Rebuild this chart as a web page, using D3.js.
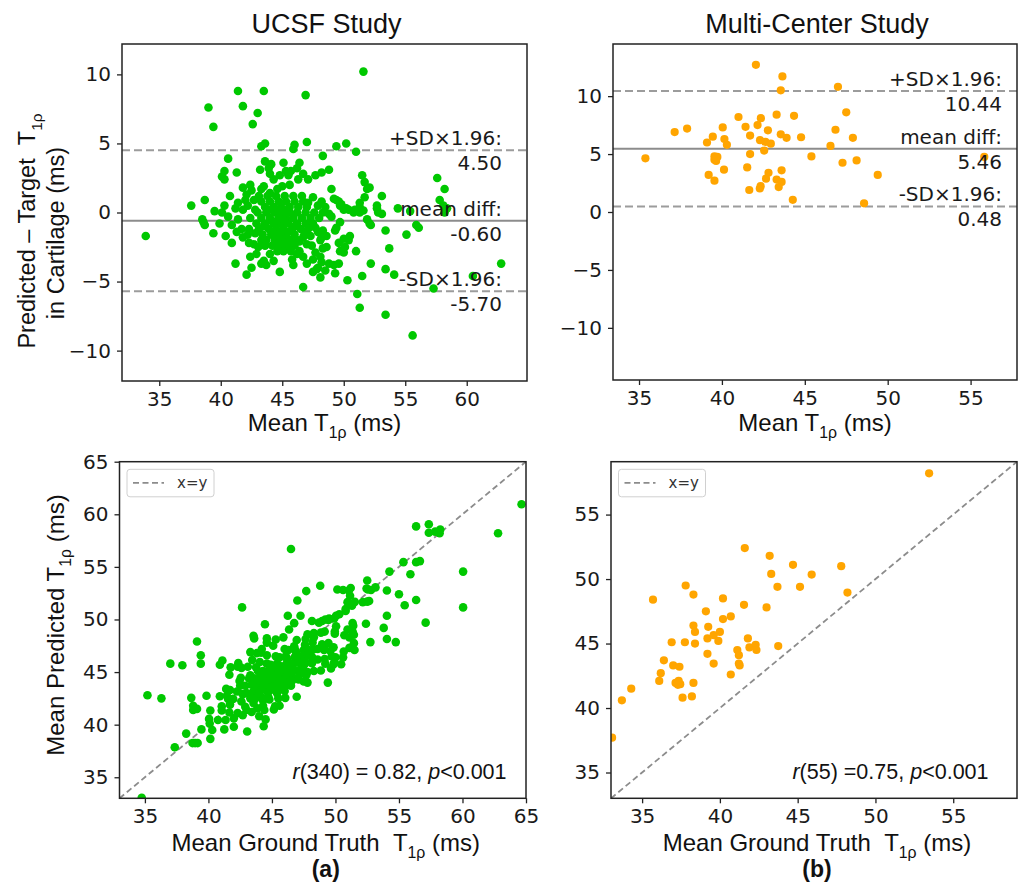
<!DOCTYPE html>
<html>
<head>
<meta charset="utf-8">
<script src="https://cdn.jsdelivr.net/npm/d3@7"></script>
<style>
  body { margin: 0; background: #fff; }
  svg { display: block; }
</style>
</head>
<body>
<svg id="chart" width="1021" height="886"></svg>
<script>
// UCSF: Bland-Altman points, [mean T1rho, predicted - target]
const ucsfBA = [
  // upper outliers
  [51.6,10.2],[41.4,8.8],[43.5,8.8],[46.9,8.5],[39.0,7.6],[41.8,7.7],[43.0,7.2],[39.4,6.2],[42.6,6.4],
  // near +SD line
  [43.3,4.8],[43.6,5.0],[46.0,4.9],[45.9,4.6],[47.0,5.1],[49.4,4.8],[50.2,5.0],[51.0,4.4],[48.3,4.1],
  [40.6,3.9],[43.6,3.7],[45.1,3.6],[46.4,3.6],[44.1,3.5],
  // upper band
  [40.3,3.0],[40.1,2.6],[40.3,2.4],[41.3,2.9],[43.2,3.1],[43.9,3.2],[44.0,2.8],[45.3,3.0],[46.2,3.2],
  [48.8,3.1],[48.2,2.9],[47.7,2.7],[47.1,2.4],[49.0,1.7],[51.5,2.7],[51.7,2.2],[52.1,1.8],[51.9,1.7],
  [57.6,2.5],[58.2,1.7],[53.1,1.2],[41.8,1.8],[42.4,2.0],[42.5,1.6],[42.1,1.3],[43.3,1.7],[44.3,2.4],
  [44.6,1.7],[43.5,1.9],[44.0,1.4],[45.0,1.9],[45.6,2.0],[46.3,2.4],[44.8,2.7],[45.5,2.7],[46.7,2.8],[45.7,3.0],
  // around zero
  [40.75,1.2],[38.7,0.9],[37.6,0.5],[40.3,0.5],[40.1,0.0],[39.5,0.1],[41.2,0.3],[41.4,0.7],[41.8,0.2],
  [42.2,0.5],[42.7,0.9],[43.1,1.2],[42.8,0.2],[42.0,0.9],[47.5,1.1],[47.1,0.7],[47.9,0.5],[49.4,0.9],
  [49.7,0.5],[50.0,0.2],[50.4,0.2],[50.8,0.0],[51.3,0.0],[52.7,0.5],[51.3,0.7],[51.7,1.1],[49.2,1.0],
  [49.6,0.8],[49.8,0.6],[50.2,0.3],[50.9,0.2],[52.7,0.3],[52.8,0.0],[53.1,-0.1],[54.4,0.3],[55.4,0.1],
  [57.8,0.9],[58.1,0.5],[58.2,0.0],[58.4,0.3],[51.3,0.4],[51.6,0.15],[48.8,-0.1],[49.0,-0.3],
  // right and lower side
  [55.9,-0.9],[56.1,-1.1],[55.1,-1.6],[53.4,-1.3],[51.9,-0.5],[52.1,-0.8],[52.2,-0.9],[53.7,-2.6],
  [52.2,-3.7],[53.4,-4.1],[54.1,-4.5],[51.5,-4.6],[50.3,-4.9],[51.1,-5.9],[51.3,-6.9],[53.4,-7.4],
  [55.6,-8.9],[57.3,-5.5],[60.5,-4.6],[62.8,-3.7],[51.0,-2.8],[49.7,-2.8],[50.0,-2.9],[50.1,-2.5],
  [50.5,-1.7],[50.4,-2.0],[50.0,-1.9],[49.6,-2.2],[49.4,-1.1],[49.7,-0.7],[49.3,-1.3],[49.2,-3.8],
  [49.3,-4.4],[49.6,-3.7],[48.6,-2.5],[48.3,-2.6],[48.1,-3.2],[48.2,-3.6],[48.8,-3.7],[48.5,-4.2],
  [47.9,-4.0],[47.7,-2.9],[47.5,-3.4],[47.8,-4.1],[48.1,-4.7],[47.5,-4.3],[46.7,-3.2],[47.0,-3.7],
  [47.4,-2.4],[46.4,-2.8],[44.8,-4.3],[45.9,-3.8],[45.8,-3.4],[46.2,-3.0],[46.7,-5.4],[48.3,-1.3],
  [48.6,-1.7],[47.9,-1.4],[48.2,-1.8],[47.7,-1.1],[47.3,-1.7],[48.1,-2.0],[46.7,-1.8],[46.4,-2.1],[47.0,-2.3],
  // left and lower side
  [33.9,-1.7],[38.5,-0.5],[38.7,-0.9],[38.6,-0.7],[39.4,-1.5],[39.9,-0.8],[40.4,-1.7],[40.9,-2.2],
  [41.2,-3.7],[42.1,-4.5],[42.5,-4.0],[43.3,-3.7],[42.9,-3.0],[42.4,-3.2],[40.9,-0.9],[41.3,-1.4],
  [41.8,-1.8],[42.3,-2.2],[41.4,-0.5],[40.6,-0.3],[41.7,-1.2],[43.05,-2.5],[42.7,-2.3],[43.3,-2.0],
  [42.8,-1.5],[43.7,-3.8],[44.3,-3.5],[43.5,-3.5],[44.0,-3.0],
  // dense core
  [43.8,1.2],[44.5,1.2],[45.2,1.2],[45.9,1.2],[46.6,1.2],
  [43.3,0.8],[44.0,0.8],[44.7,0.8],[45.3,0.8],[46.0,0.8],[46.7,0.8],[48.2,0.8],
  [43.6,0.4],[44.3,0.4],[44.9,0.4],[45.6,0.4],[46.3,0.4],[47.0,0.4],[48.5,0.4],
  [43.0,0.0],[43.7,0.0],[44.4,0.0],[45.0,0.0],[45.6,0.0],[46.2,0.0],[46.9,0.0],[47.6,0.0],[48.3,0.0],
  [42.4,-0.4],[43.3,-0.4],[44.0,-0.4],[44.7,-0.4],[45.3,-0.4],[45.9,-0.4],[46.6,-0.4],[47.3,-0.4],[48.0,-0.4],
  [42.9,-0.8],[43.6,-0.8],[44.3,-0.8],[44.9,-0.8],[45.5,-0.8],[46.2,-0.8],[46.9,-0.8],[47.5,-0.8],
  [42.3,-1.2],[43.1,-1.2],[43.9,-1.2],[44.5,-1.2],[45.1,-1.2],[45.8,-1.2],[46.5,-1.2],[47.1,-1.2],
  [42.2,-1.6],[43.4,-1.6],[44.1,-1.6],[44.7,-1.6],[45.3,-1.6],[46.0,-1.6],[46.8,-1.6],
  [43.7,-2.0],[44.4,-2.0],[45.0,-2.0],[45.6,-2.0],[46.2,-2.0],
  [43.6,-2.4],[44.2,-2.4],[44.8,-2.4],[45.4,-2.4],[46.0,-2.4],
  [44.6,-2.8],[45.1,-2.8],[45.7,-2.8],
  [44.1,0.2],[44.8,0.2],[45.4,0.2],[44.1,-0.6],[44.6,-0.6],[45.2,-0.6],
  [44.3,-1.4],[44.9,-1.4],[45.5,-1.4],[44.7,-2.2],[45.3,-2.2],[43.5,-1.0],[46.0,-1.0]
];

// Multi-center, [ground truth, predicted]
const mcPairs = [
  [53.45,58.2],[33.07,37.7],[33.7,40.6],[34.3,41.5],[35.7,48.4],[36.1,42.1],[36.2,42.7],[36.4,43.7],
  [36.9,45.1],[37.0,43.3],[37.15,41.95],[37.35,42.1],[37.45,41.85],[37.3,41.8],[37.4,43.2],[37.6,40.8],
  [37.75,45.1],[37.8,49.5],[38.2,40.9],[38.3,41.95],[38.3,48.8],[38.3,46.4],[38.4,45.9],[38.4,45.0],
  [39.1,47.5],[39.25,46.3],[39.2,45.4],[39.2,44.2],[39.6,43.45],[39.6,45.65],[39.9,45.2],[40.0,45.9],
  [40.2,46.9],[40.2,48.5],[40.7,47.1],[40.7,42.6],[41.12,44.5],[41.22,44.1],[41.22,43.45],[41.27,43.3],
  [41.55,48.0],[41.6,52.4],[41.8,45.4],[41.9,44.7],[42.3,44.9],[42.35,44.5],[43.0,47.8],[43.2,51.8],
  [43.3,50.4],[43.7,49.4],[43.75,44.8],[44.7,51.1],[45.15,49.4],[45.9,50.35],[47.8,51.0],[48.2,48.95]
];

// limits of agreement printed on the charts: +SD, mean, -SD
const statNames = ["+SD×1.96:", "mean diff:", "-SD×1.96:"];
const ucsfStats = [4.50, -0.60, -5.70];
const mcStats = [10.44, 5.46, 0.48];

const titles = ["UCSF Study", "Multi-Center Study"];
const panelTags = ["(a)", "(b)"];
const corrText = [["r", "(340) = 0.82, ", "p", "<0.001"], ["r", "(55) =0.75, ", "p", "<0.001"]];

const baTicksUcsfX = [35, 40, 45, 50, 55, 60];
const baTicksMcX = [35, 40, 45, 50, 55];
const baTicksY = [-10, -5, 0, 5, 10];
const scTicksUcsf = [35, 40, 45, 50, 55, 60, 65];
const scTicksMc = [35, 40, 45, 50, 55];

const green = "#00c800", orange = "#ffa500";
const sans = "'Liberation Sans', Arial, sans-serif";
const dejavu = "'DejaVu Sans', sans-serif";
const NB = "\u00a0";

const svg = d3.select("#chart");

// text with a T1rho subscript inside
function t1rho(sel, pre, post, fs) {
  sel.append("tspan").text(pre);
  sel.append("tspan").attr("font-size", fs * 0.66).attr("dy", fs * 0.28).text("1ρ");
  sel.append("tspan").attr("dy", -fs * 0.28).text(post);
}

function makePanel(box, xDomain, yDomain, xTicks, yTicks, id) {
  const x = d3.scaleLinear().domain(xDomain).range([box.left, box.right]);
  const y = d3.scaleLinear().domain(yDomain).range([box.bottom, box.top]);

  svg.append("clipPath").attr("id", id)
    .append("rect")
    .attr("x", box.left).attr("y", box.top)
    .attr("width", box.right - box.left).attr("height", box.bottom - box.top);

  const plot = svg.append("g").attr("clip-path", `url(#${id})`);

  const xAxis = svg.append("g")
    .attr("transform", `translate(0,${box.bottom})`)
    .call(d3.axisBottom(x).tickValues(xTicks).tickSize(5).tickPadding(6));
  const yAxis = svg.append("g")
    .attr("transform", `translate(${box.left},0)`)
    .call(d3.axisLeft(y).tickValues(yTicks).tickSize(5).tickPadding(6));
  [xAxis, yAxis].forEach(a => {
    a.select(".domain").remove();
    a.selectAll("line").attr("stroke", "#222").attr("stroke-width", 1.3);
    a.selectAll("text").attr("font-family", dejavu).attr("font-size", 20).attr("fill", "#1a1a1a");
  });

  return {x, y, plot, box};
}

function frame(p) {
  svg.append("rect")
    .attr("x", p.box.left).attr("y", p.box.top)
    .attr("width", p.box.right - p.box.left).attr("height", p.box.bottom - p.box.top)
    .attr("fill", "none").attr("stroke", "#222").attr("stroke-width", 1.5);
}

function blandAltman(p, points, stats, color, r, textInset) {
  const lines = p.plot.append("g");
  stats.forEach((v, i) => {
    lines.append("line")
      .attr("x1", p.box.left).attr("x2", p.box.right)
      .attr("y1", p.y(v)).attr("y2", p.y(v))
      .attr("stroke", i === 1 ? "#8c8c8c" : "#9c9c9c")
      .attr("stroke-width", 2)
      .attr("stroke-dasharray", i === 1 ? null : "8,4");
  });

  p.plot.append("g").selectAll("circle")
    .data(points)
    .enter()
    .append("circle")
    .attr("cx", d => p.x(d[0]))
    .attr("cy", d => p.y(d[1]))
    .attr("r", r)
    .attr("fill", color);

  const notes = svg.append("g")
    .attr("font-family", dejavu).attr("font-size", 20).attr("fill", "#1a1a1a")
    .attr("text-anchor", "end");
  stats.forEach((v, i) => {
    notes.append("text")
      .attr("x", p.box.right - textInset).attr("y", p.y(v) - 5)
      .text(statNames[i]);
    notes.append("text")
      .attr("x", p.box.right - textInset).attr("y", p.y(v) + 20)
      .text(v.toFixed(2));
  });
  frame(p);
}

function scatter(p, points, color, r, corr, corrInset) {
  const [d0, d1] = p.x.domain();
  p.plot.append("line")
    .attr("x1", p.x(d0)).attr("y1", p.y(d0))
    .attr("x2", p.x(d1)).attr("y2", p.y(d1))
    .attr("stroke", "#8c8c8c").attr("stroke-width", 1.8)
    .attr("stroke-dasharray", "6,3.5");

  p.plot.append("g").selectAll("circle")
    .data(points)
    .enter()
    .append("circle")
    .attr("cx", d => p.x(d[0]))
    .attr("cy", d => p.y(d[1]))
    .attr("r", r)
    .attr("fill", color);

  // legend
  const lg = svg.append("g").attr("transform", `translate(${p.box.left + 7.5},${p.box.top + 7.6})`);
  lg.append("rect")
    .attr("width", 87).attr("height", 27.5).attr("rx", 3)
    .attr("fill", "#fff").attr("fill-opacity", 0.8)
    .attr("stroke", "#d0d0d0");
  lg.append("line")
    .attr("x1", 6).attr("x2", 37).attr("y1", 13.5).attr("y2", 13.5)
    .attr("stroke", "#8c8c8c").attr("stroke-width", 1.8).attr("stroke-dasharray", "6,3.5");
  lg.append("text")
    .attr("x", 50).attr("y", 19)
    .attr("font-family", dejavu).attr("font-size", 15).attr("fill", "#333")
    .text("x=y");

  const t = svg.append("text")
    .attr("x", p.box.right - corrInset).attr("y", 779)
    .attr("text-anchor", "end")
    .attr("font-family", sans).attr("font-size", 21.5).attr("fill", "#111");
  corr.forEach((s, i) => {
    t.append("tspan").attr("font-style", i % 2 === 0 ? "italic" : "normal").text(s);
  });
  frame(p);
}

// top row: Bland-Altman
const tl = makePanel({left: 122, right: 527, top: 44, bottom: 381},
  [31.97, 64.9], [-12.2, 12.2], baTicksUcsfX, baTicksY, "clipTL");
blandAltman(tl, ucsfBA, ucsfStats, green, 4.3, 25);

const tr = makePanel({left: 613, right: 1017, top: 44, bottom: 380},
  [33.43, 57.8], [-14.5, 14.5], baTicksMcX, baTicksY, "clipTR");
const mcBA = mcPairs.map(d => [(d[0] + d[1]) / 2, d[1] - d[0]]);
blandAltman(tr, mcBA, mcStats, orange, 4.1, 15);

// bottom row: predicted vs ground truth
const bl = makePanel({left: 119.5, right: 526, top: 461.7, bottom: 798.3},
  [33, 65], [33, 65], scTicksUcsf, scTicksUcsf, "clipBL");
const ucsfPairs = ucsfBA.map(d => [d[0] - d[1] / 2, d[0] + d[1] / 2]);
scatter(bl, ucsfPairs, green, 4.3, corrText[0], 19.5);

const br = makePanel({left: 611, right: 1017, top: 461.7, bottom: 798.3},
  [33, 59.1], [33, 59.1], scTicksMc, scTicksMc, "clipBR");
scatter(br, mcPairs, orange, 4.1, corrText[1], 28.5);

// titles and x labels
[tl, tr].forEach((p, i) => {
  svg.append("text")
    .attr("x", (p.box.left + p.box.right) / 2 + 2).attr("y", 33)
    .attr("text-anchor", "middle")
    .attr("font-family", sans).attr("font-size", 27).attr("fill", "#111")
    .text(titles[i]);
  const xl = svg.append("text")
    .attr("x", (p.box.left + p.box.right) / 2).attr("y", 431)
    .attr("text-anchor", "middle")
    .attr("font-family", sans).attr("font-size", 24).attr("fill", "#111");
  t1rho(xl, "Mean T", " (ms)", 24);
});

[bl, br].forEach((p, i) => {
  const xl = svg.append("text")
    .attr("x", (p.box.left + p.box.right) / 2 + 3).attr("y", 851)
    .attr("text-anchor", "middle")
    .attr("font-family", sans).attr("font-size", 24).attr("fill", "#111");
  t1rho(xl, "Mean Ground Truth " + NB + "T", " (ms)", 24);
  svg.append("text")
    .attr("x", (p.box.left + p.box.right) / 2 + 3).attr("y", 877)
    .attr("text-anchor", "middle")
    .attr("font-family", sans).attr("font-size", 23).attr("font-weight", "bold").attr("fill", "#111")
    .text(panelTags[i]);
});

// y labels
const yl1 = svg.append("text")
  .attr("transform", "translate(35,231) rotate(-90)")
  .attr("text-anchor", "middle")
  .attr("font-family", sans).attr("font-size", 23.5).attr("fill", "#111");
t1rho(yl1, "Predicted – Target " + NB + "T", "", 23.5);
svg.append("text")
  .attr("transform", "translate(64,233) rotate(-90)")
  .attr("text-anchor", "middle")
  .attr("font-family", sans).attr("font-size", 23.5).attr("fill", "#111")
  .text("in Cartilage (ms)");
const yl2 = svg.append("text")
  .attr("transform", "translate(64,625) rotate(-90)")
  .attr("text-anchor", "middle")
  .attr("font-family", sans).attr("font-size", 24).attr("fill", "#111");
t1rho(yl2, "Mean Predicted T", " (ms)", 24);
</script>
</body>
</html>
